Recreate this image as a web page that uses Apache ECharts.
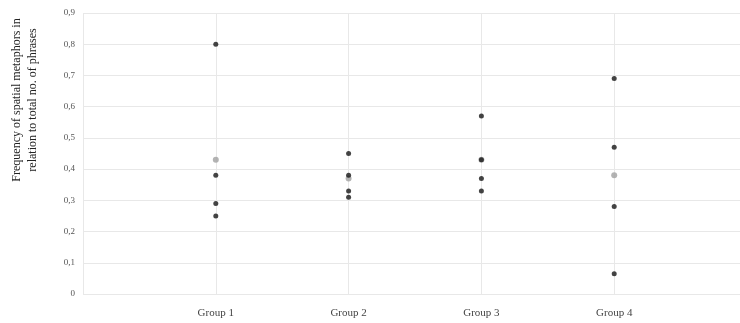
<!DOCTYPE html>
<html><head><meta charset="utf-8">
<script src="https://cdn.jsdelivr.net/npm/echarts@6/dist/echarts.min.js"></script>
<style>html,body{margin:0;padding:0;background:#fff}#c{width:740px;height:323px}</style>
</head><body><div id="c"></div>
<script>
const categories = ["Group 1", "Group 2", "Group 3", "Group 4"];
const group1 = [0.80, 0.38, 0.29, 0.25];
const group2 = [0.45, 0.38, 0.33, 0.31];
const group3 = [0.57, 0.43, 0.37, 0.33];
const group4 = [0.69, 0.47, 0.28, 0.065];
const means = [0.43, 0.37, 0.43, 0.38];
const yTicks = ["0", "0,1", "0,2", "0,3", "0,4", "0,5", "0,6", "0,7", "0,8", "0,9"];
const yTitle = "Frequency of spatial metaphors in\nrelation to total no. of phrases";

const groups = [group1, group2, group3, group4];
const pointData = [];
groups.forEach((g, i) => g.forEach(v => pointData.push([i + 1, v])));
const meanData = means.map((v, i) => [i + 1, v]);

const chart = echarts.init(document.getElementById('c'));
const font = 'Liberation Serif, Times New Roman, serif';
chart.setOption({
  animation: false,
  grid: { left: 83, right: -7, top: 13, bottom: 29, outerBoundsMode: 'none', containLabel: false },
  xAxis: {
    type: 'value', min: 0, max: 5, interval: 1,
    axisLine: { show: false }, axisTick: { show: false },
    splitLine: { show: true, lineStyle: { color: '#e8e8e8', width: 1 } },
    axisLabel: {
      margin: 14, color: '#444', fontFamily: font, fontSize: 11,
      formatter: v => (v >= 1 && v <= categories.length) ? categories[v - 1] : ''
    }
  },
  yAxis: {
    type: 'value', min: 0, max: 0.9, interval: 0.1,
    axisLine: { show: false }, axisTick: { show: false },
    splitLine: { show: true, lineStyle: { color: '#e8e8e8', width: 1 } },
    axisLabel: {
      margin: 8, color: '#555', fontFamily: font, fontSize: 9,
      formatter: v => yTicks[Math.round(v * 10)]
    }
  },
  graphic: [{
    type: 'text', x: 25, y: 100, rotation: Math.PI / 2,
    style: {
      text: yTitle, fill: '#222', font: '12px ' + font,
      align: 'center', verticalAlign: 'middle', lineHeight: 16
    }
  }],
  series: [
    { type: 'scatter', data: meanData, symbolSize: 6,
      itemStyle: { color: '#a0a0a0' } },
    { type: 'scatter', data: pointData, symbolSize: 5,
      itemStyle: { color: '#151515' } }
  ]
});
</script></body></html>
